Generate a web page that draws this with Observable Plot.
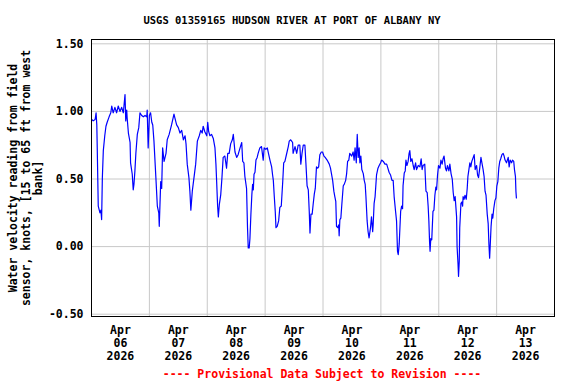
<!DOCTYPE html>
<html><head><meta charset="utf-8">
<script src="https://cdn.jsdelivr.net/npm/d3@7"></script>
<script src="https://cdn.jsdelivr.net/npm/@observablehq/plot@0.6"></script>
<style>
html,body{margin:0;padding:0;background:#fff;}
</style></head><body><div id="chart"></div>
<script>
const title = "USGS 01359165 HUDSON RIVER AT PORT OF ALBANY NY";
const yLabel = "Water velocity reading from field\nsensor, knots, [15 to 65 ft from west\nbank]";
const footer = "---- Provisional Data Subject to Revision ----";
const yTicks = [-0.5, 0, 0.5, 1, 1.5];

// hours since 2026-04-06 00:00
const hours = [
0.1,0.7,1.5,1.9,2.2,2.4,2.8,3.5,3.9,4.2,
4.5,4.9,5.5,6.0,6.5,7.3,8.0,8.4,9.0,9.7,
10.4,11.1,11.8,12.5,13.2,13.9,14.2,14.6,14.8,15.3,
16.0,16.2,16.9,17.3,17.6,18.0,18.4,19.0,19.6,20.1,
20.8,21.5,22.2,22.9,23.1,23.5,24.0,24.5,25.0,25.4,
25.9,26.7,27.3,27.9,28.1,28.7,29.1,29.5,30.1,30.9,
31.4,32.2,33.2,34.2,34.6,35.3,36.0,36.7,37.4,38.1,
38.8,39.2,39.7,40.4,40.8,41.2,41.8,42.5,43.2,43.9,
44.7,45.3,45.9,46.3,47.0,47.8,48.2,48.6,49.1,49.8,
50.5,51.2,51.6,51.9,52.3,52.6,53.0,53.6,54.1,54.6,
55.3,56.0,56.5,57.1,57.7,58.4,58.8,59.5,60.2,60.8,
61.6,62.3,62.7,63.2,63.6,64.3,64.7,65.0,65.4,65.7,
66.1,66.5,66.8,67.1,67.4,67.8,68.2,68.7,69.1,69.8,
70.5,71.2,71.6,72.3,72.9,73.5,74.0,74.7,75.1,75.4,
75.8,76.2,76.5,77.0,77.6,78.1,78.7,79.3,79.7,80.2,
80.9,81.6,82.0,82.6,83.0,83.4,83.6,84.4,85.1,85.7,
86.4,86.8,87.3,87.8,88.5,88.9,89.4,89.9,90.3,90.6,
91.0,91.5,91.9,92.4,92.8,93.3,93.8,94.2,94.7,95.3,
95.8,96.4,96.9,97.7,98.6,99.1,100.0,100.5,100.9,101.3,
101.6,102.1,102.5,102.7,103.0,103.4,103.8,104.4,104.8,105.4,
105.8,106.2,106.7,107.1,107.9,108.5,108.9,109.3,109.8,110.2,
110.6,111.0,111.3,111.7,112.1,112.7,113.1,113.5,113.8,114.3,
114.7,115.1,115.7,116.1,116.6,116.8,117.2,117.6,118.2,118.8,
119.3,119.9,120.3,121.0,121.7,122.4,122.9,123.4,124.0,124.6,
125.1,125.5,126.1,126.5,126.9,127.2,127.6,128.2,128.6,129.0,
129.2,129.7,130.1,130.4,130.8,131.3,131.7,132.0,132.4,132.9,
133.4,133.8,134.4,134.8,135.5,136.2,136.7,137.1,137.5,138.2,
138.7,139.2,139.6,139.9,140.2,140.4,140.7,141.1,141.6,142.0,
142.4,142.8,143.1,143.5,143.9,144.5,144.9,145.4,145.8,146.2,
146.8,147.2,147.6,148.2,148.6,149.1,149.6,150.0,150.4,150.8,
151.4,151.6,152.0,152.2,152.5,152.7,153.2,153.6,153.9,154.1,
154.5,154.9,155.4,155.8,156.1,156.5,156.9,157.3,157.7,158.3,
158.7,159.1,159.7,160.1,160.5,161.0,161.5,161.9,162.4,162.8,
163.2,163.6,164.1,164.5,164.8,165.1,165.3,165.7,166.1,166.4,
166.8,167.3,167.7,168.1,168.5,168.9,169.3,169.7,170.2,170.7,
171.1,171.5,172.1,172.8,173.2,173.6,174.2,174.6,175.1,175.4,
175.8,176.0,176.2
];

// water velocity, knots
const velocity = [
0.94,0.93,0.94,0.99,0.90,0.71,0.30,0.25,0.27,0.20,
0.51,0.71,0.82,0.89,0.92,0.96,0.99,1.04,0.99,1.03,
0.99,1.04,1.00,1.03,0.99,1.125,0.93,1.01,0.95,0.84,
0.77,0.62,0.535,0.42,0.46,0.56,0.69,0.83,0.88,0.99,
0.97,0.96,0.97,0.96,1.01,0.73,0.97,0.99,0.92,0.90,
0.78,0.51,0.30,0.25,0.15,0.48,0.43,0.73,0.63,0.69,
0.79,0.83,0.90,0.98,0.95,0.90,0.88,0.84,0.86,0.79,
0.82,0.76,0.61,0.51,0.41,0.27,0.41,0.51,0.61,0.78,
0.82,0.86,0.84,0.89,0.85,0.82,0.92,0.85,0.82,0.83,
0.80,0.73,0.61,0.48,0.30,0.22,0.31,0.385,0.51,0.66,
0.67,0.58,0.69,0.69,0.76,0.79,0.83,0.70,0.66,0.68,
0.73,0.77,0.63,0.62,0.52,0.43,0.14,-0.01,-0.01,0.06,
0.24,0.385,0.46,0.42,0.535,0.55,0.64,0.66,0.69,0.73,
0.74,0.64,0.73,0.72,0.73,0.68,0.64,0.59,0.53,0.49,
0.37,0.26,0.14,0.15,0.19,0.29,0.30,0.48,0.62,0.63,
0.685,0.74,0.78,0.79,0.78,0.77,0.69,0.74,0.69,0.75,
0.75,0.61,0.69,0.75,0.75,0.62,0.45,0.42,0.26,0.10,
0.24,0.24,0.31,0.39,0.43,0.59,0.58,0.59,0.68,0.70,
0.70,0.67,0.66,0.64,0.61,0.58,0.49,0.41,0.37,0.335,
0.15,0.14,0.16,0.08,0.20,0.21,0.31,0.45,0.46,0.49,
0.54,0.63,0.64,0.69,0.67,0.70,0.64,0.73,0.62,0.83,
0.66,0.73,0.62,0.67,0.57,0.54,0.49,0.46,0.37,0.19,
0.11,0.064,0.14,0.22,0.11,0.16,0.32,0.37,0.53,0.58,
0.60,0.62,0.64,0.63,0.61,0.61,0.58,0.55,0.53,0.49,
0.49,0.37,0.26,0.19,-0.035,-0.06,0.02,0.26,0.30,0.28,
0.45,0.545,0.56,0.64,0.60,0.63,0.69,0.71,0.63,0.65,
0.60,0.57,0.62,0.57,0.60,0.59,0.65,0.57,0.60,0.61,
0.41,0.40,0.30,0.19,0.03,-0.035,0.06,0.05,0.26,0.27,
0.38,0.44,0.42,0.53,0.60,0.58,0.64,0.61,0.65,0.67,
0.58,0.56,0.60,0.56,0.61,0.54,0.50,0.40,0.34,0.37,
0.22,0.00,-0.13,-0.22,-0.11,0.14,0.32,0.33,0.30,0.37,
0.35,0.38,0.35,0.43,0.52,0.57,0.62,0.59,0.63,0.66,
0.68,0.57,0.60,0.53,0.51,0.58,0.66,0.62,0.57,0.52,
0.41,0.38,0.24,0.17,0.02,-0.085,-0.01,0.15,0.24,0.21,
0.28,0.34,0.36,0.45,0.48,0.58,0.63,0.65,0.68,0.69,
0.67,0.64,0.62,0.66,0.59,0.64,0.62,0.64,0.63,0.57,
0.52,0.41,0.36
];

const t0 = new Date(Date.UTC(2026, 3, 6));
const t1 = new Date(Date.UTC(2026, 3, 14));
const data = hours.map((h, i) => ({date: new Date(+t0 + h * 3600e3), v: velocity[i]}));
const days = d3.utcDay.range(t0, t1);
const noonTicks = days.map(d => d3.utcHour.offset(d, 12));
const midnights = days.slice(1);
const fmtX = d3.utcFormat("%b\n%d\n%Y");

const chart = Plot.plot({
  width: 576, height: 384,
  marginLeft: 91, marginRight: 22, marginTop: 39, marginBottom: 68,
  style: {fontFamily: "'DejaVu Sans Mono', monospace", fontWeight: "bold", fontSize: "11px", background: "#fff", color: "#000"},
  x: {type: "utc", domain: [t0, t1]},
  y: {domain: [-0.517, 1.532]},
  marks: [
    Plot.gridY(yTicks, {stroke: "#c8c8c8", strokeOpacity: 1}),
    Plot.gridX(midnights, {stroke: "#c8c8c8", strokeOpacity: 1}),
    Plot.line(data, {x: "date", y: "v", stroke: "#0000ff", strokeWidth: 1.2}),
    Plot.frame({stroke: "#000"}),
    Plot.axisY(yTicks, {tickSize: 0, tickPadding: 8, tickFormat: d => d.toFixed(2), label: null, fontSize: 11.5}),
    Plot.axisX(noonTicks, {tickSize: 0, tickPadding: 9, tickFormat: fmtX, label: null, lineHeight: 1.1, fontSize: 11.5}),
    Plot.text([title], {frameAnchor: "top", textAnchor: "middle", lineAnchor: "middle", dx: -31, dy: -19, fontSize: 10.5}),
    Plot.text([footer], {frameAnchor: "bottom", textAnchor: "middle", lineAnchor: "middle", dx: -1, dy: 58, fill: "#ff0000", fontSize: 11.5}),
    Plot.text([yLabel], {frameAnchor: "left", textAnchor: "middle", lineAnchor: "middle", dx: -66, rotate: -90, lineHeight: 1.09, fontSize: 11.5})
  ]
});
document.getElementById("chart").appendChild(chart);
</script>
</body></html>
